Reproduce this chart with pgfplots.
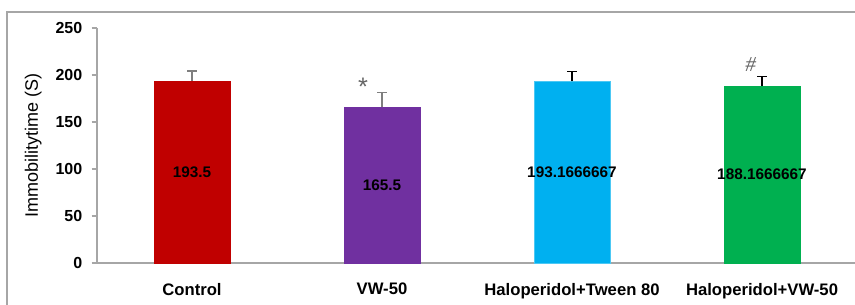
\documentclass[border=0pt]{standalone}
\usepackage{fontspec}
\setmainfont{Liberation Sans}
\newfontfamily\serifff{Liberation Serif}
\usepackage{pgfplots}
\pgfplotsset{compat=1.18}
\definecolor{cRed}{HTML}{C00000}
\definecolor{cPurple}{HTML}{7030A0}
\definecolor{cCyan}{HTML}{00B0F0}
\definecolor{cGreen}{HTML}{00B050}
\definecolor{axgray}{HTML}{A6A6A6}
\definecolor{errgray}{HTML}{7F7F7F}
\begin{document}
\begin{tikzpicture}
\useasboundingbox (-72.75pt,-30.75pt) rectangle (568.5pt,197.25pt);
\clip (-72.75pt,-30.75pt) rectangle (568.5pt,197.25pt);
\draw[axgray, line width=1pt] (-67.5pt,-40pt) -- (-67.5pt,188.25pt) -- (600pt,188.25pt);
\begin{axis}[
  at={(0pt,0pt)}, anchor=south west,
  scale only axis, width=570pt, height=176.25pt,
  xmin=-0.5, xmax=3.5, ymin=0, ymax=250,
  ytick={0,50,100,150,200,250},
  xtick={0,1,2,3},
  xticklabels={Control,VW-50,Haloperidol+Tween 80,Haloperidol+VW-50},
  extra x ticks={0.5,1.5,2.5},
  extra x tick labels={},
  extra x tick style={major tick length=5pt, tick align=outside, tick style={axgray, line width=0.75pt}},
  axis x line*=bottom, axis y line*=left,
  axis line style={axgray, line width=0.9pt},
  major tick length=4pt, tick align=outside,
  xtick style={draw=none},
  ytick style={axgray, line width=0.9pt},
  /pgf/number format/assume math mode=true,
  yticklabel style={font=\bfseries\fontsize{12}{14}\selectfont, xshift=-3.5pt},
  xticklabel style={font=\bfseries\fontsize{12.5}{14}\selectfont, yshift=-7.5pt},
  ylabel={Immobilitytime (S)},
  ylabel style={font=\fontsize{13.5}{15}\selectfont, at={(axis description cs:-0.084,0.5)}, anchor=center, rotate=0},
  clip=false,
]
\addplot[ybar, bar width=57pt, bar shift=0pt, fill=cRed, draw=cRed,
  error bars/.cd, y dir=plus, y explicit,
  error bar style={errgray, line width=1.4pt},
  error mark options={rotate=90, mark size=3.5pt, errgray, line width=1.2pt}]
  coordinates {(0,193.5) +- (0,10.5)};
\addplot[ybar, bar width=57pt, bar shift=0pt, fill=cPurple, draw=cPurple,
  error bars/.cd, y dir=plus, y explicit,
  error bar style={errgray, line width=1.4pt},
  error mark options={rotate=90, mark size=3.5pt, errgray, line width=1.2pt}]
  coordinates {(1,165.5) +- (0,16)};
\addplot[ybar, bar width=57pt, bar shift=0pt, fill=cCyan, draw=cCyan!70!white,
  error bars/.cd, y dir=plus, y explicit,
  error bar style={black, line width=0.8pt},
  error mark options={rotate=90, mark size=3.5pt, black, line width=0.8pt}]
  coordinates {(2,193.17) +- (0,11)};
\addplot[ybar, bar width=57pt, bar shift=0pt, fill=cGreen, draw=cGreen,
  error bars/.cd, y dir=plus, y explicit,
  error bar style={black, line width=0.8pt},
  error mark options={rotate=90, mark size=3.5pt, black, line width=0.8pt}]
  coordinates {(3,188.17) +- (0,10)};
% value labels at half height of each bar
\addplot[only marks, mark=none, nodes near coords, point meta=explicit symbolic,
  nodes near coords align=center,
  every node near coord/.style={font=\bfseries\fontsize{11.5}{13}\selectfont, text=black, anchor=center}]
  coordinates {(0,96.75)[193.5] (1,82.75)[165.5] (2,96.58)[193.1666667] (3,94.08)[188.1666667]};
\node[text=errgray!80!black, font=\fontsize{19}{19}\selectfont, anchor=center] at (axis cs:0.9,188) {*};
\node[text=errgray!80!black, font=\serifff\itshape\fontsize{16}{16}\selectfont, anchor=center] at (axis cs:2.94,211) {\#};
\end{axis}
\end{tikzpicture}
\end{document}
